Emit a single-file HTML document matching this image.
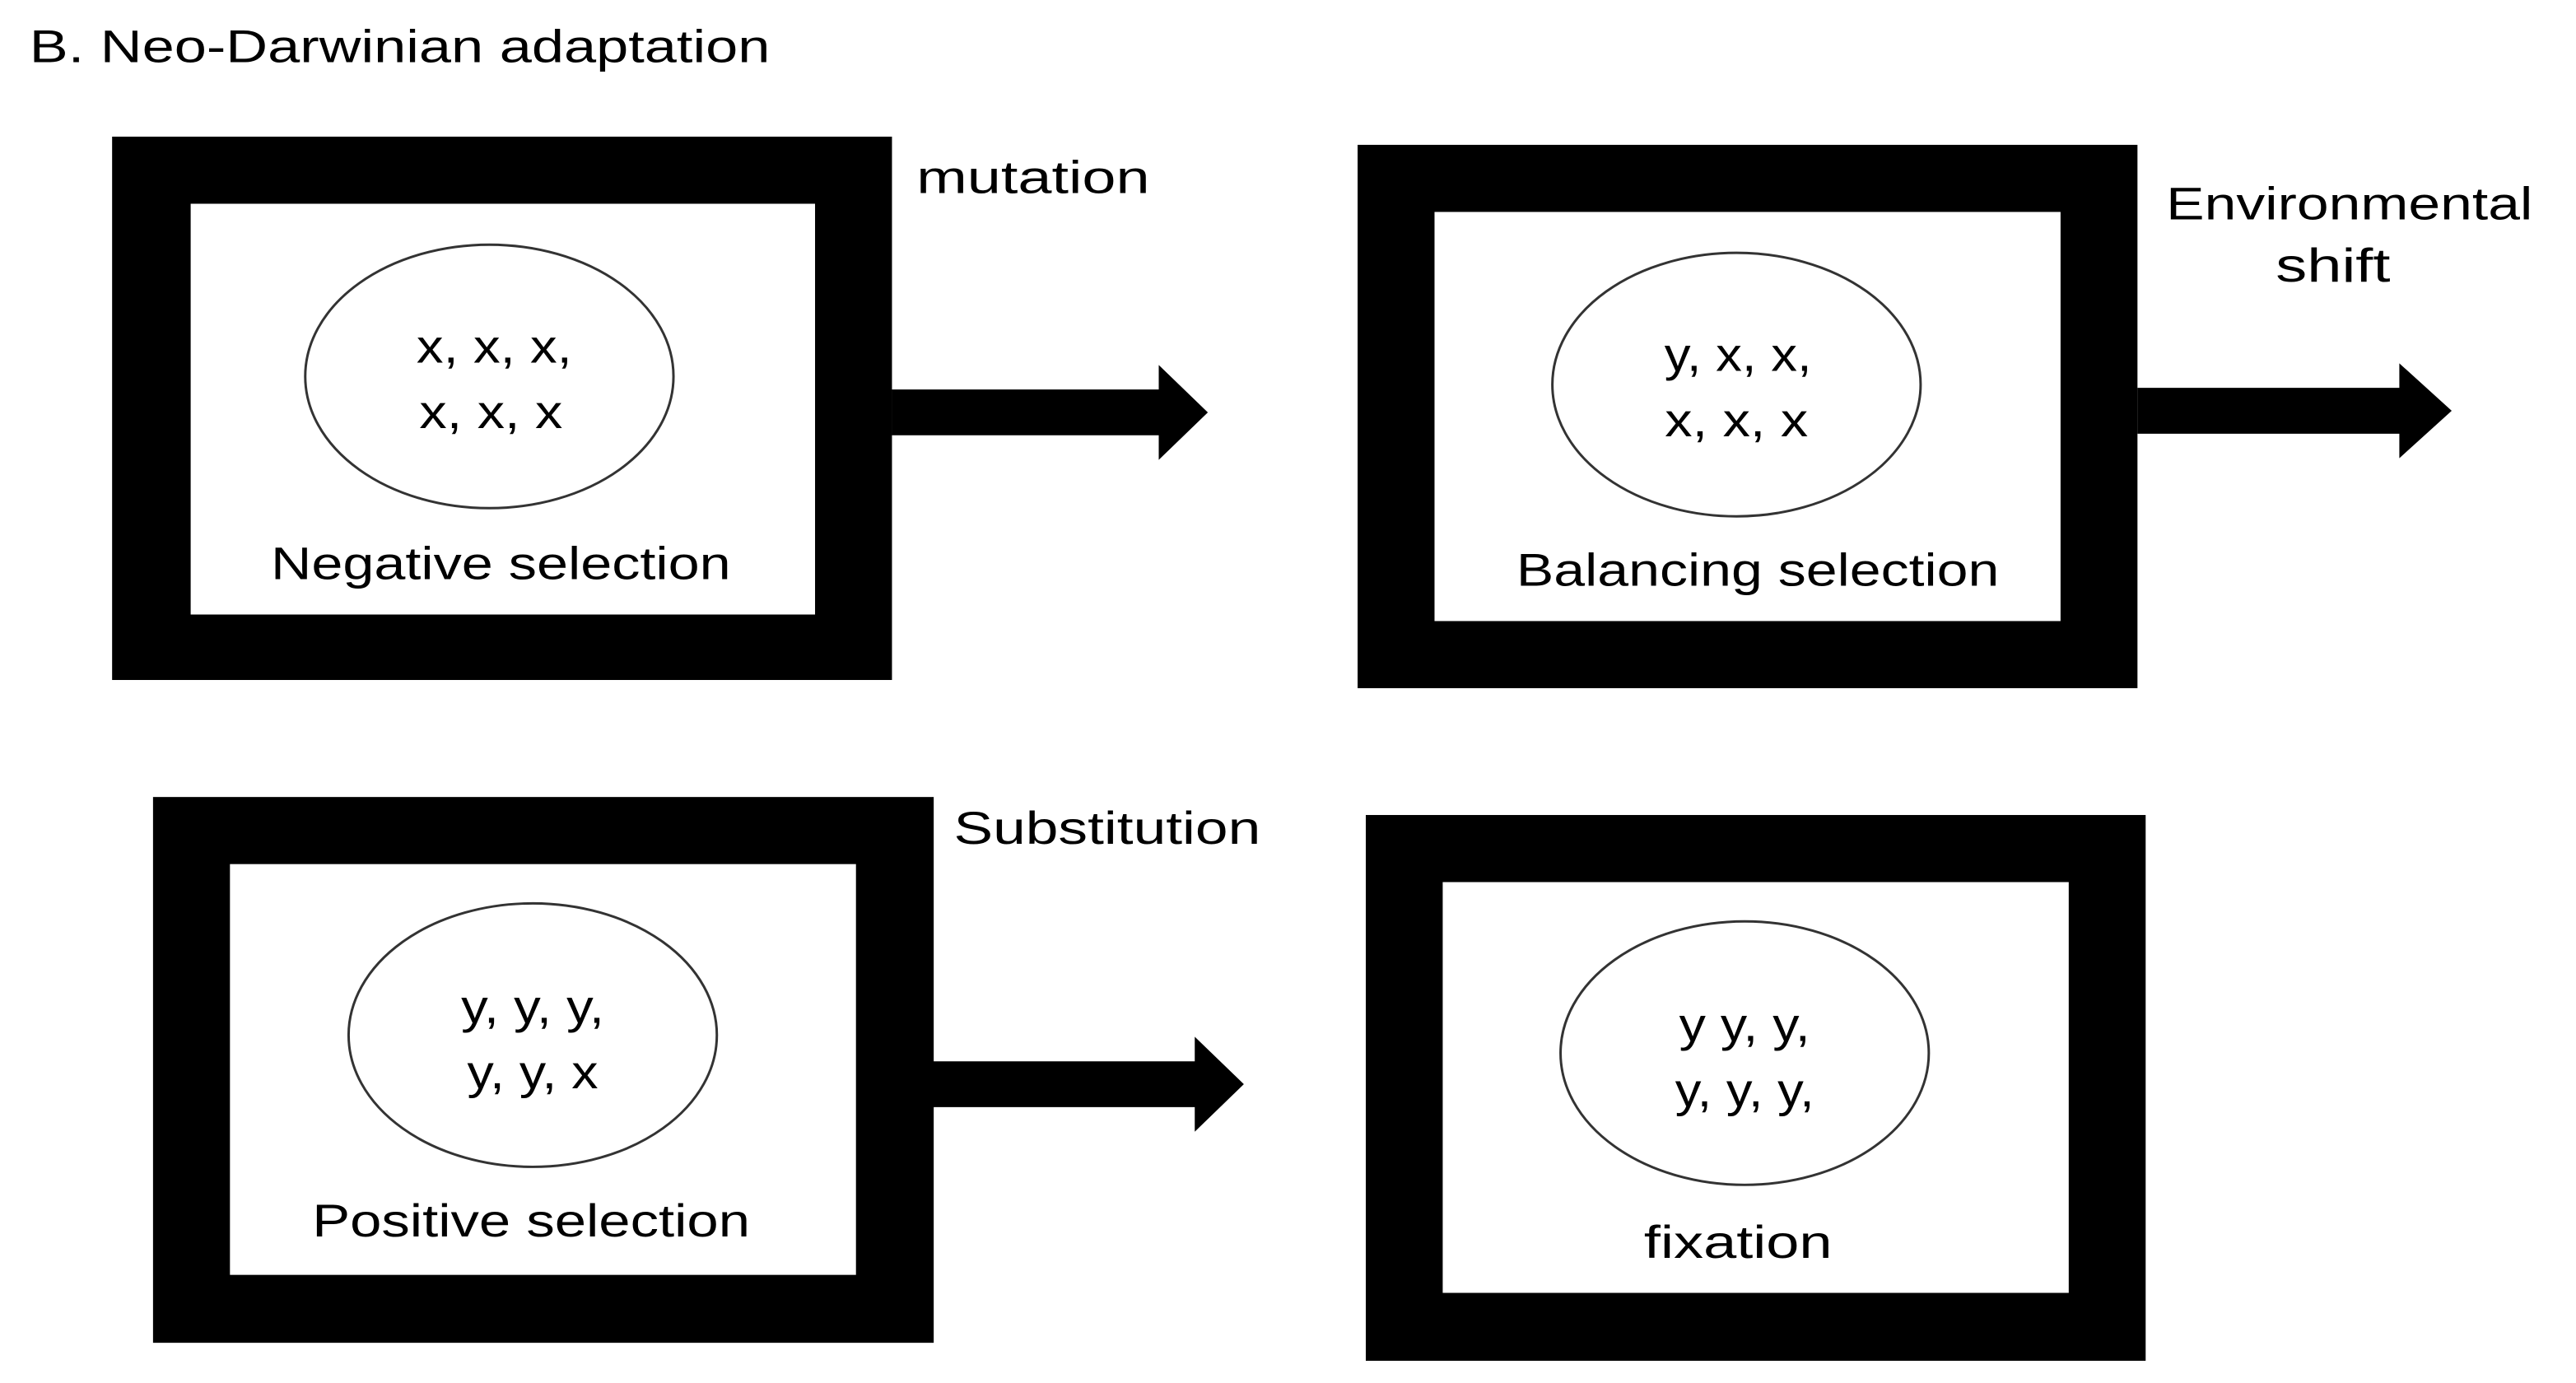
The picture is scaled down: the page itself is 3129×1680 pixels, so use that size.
<!DOCTYPE html>
<html><head><meta charset="utf-8"><style>html,body{margin:0;padding:0;background:#fff}svg{display:block}</style></head>
<body>
<svg width="3129" height="1680" viewBox="0 0 3129 1680" xmlns="http://www.w3.org/2000/svg" font-family="Liberation Sans, sans-serif" fill="#000">
<g transform="scale(0.994)">
<text x="36" y="76" font-size="56" textLength="905" lengthAdjust="spacingAndGlyphs">B.  Neo-Darwinian adaptation</text>

<!-- Box 1 -->
<rect x="137" y="167" width="953" height="664" fill="#000"/>
<rect x="233" y="249" width="763" height="502" fill="#fff"/>
<ellipse cx="598" cy="460" rx="225" ry="161" fill="#fff" stroke="#333" stroke-width="3"/>
<text x="604" y="443" font-size="58" text-anchor="middle" textLength="190" lengthAdjust="spacingAndGlyphs">x, x, x,</text>
<text x="600" y="523" font-size="58" text-anchor="middle" textLength="175" lengthAdjust="spacingAndGlyphs">x, x, x</text>
<text x="612" y="708" font-size="56" text-anchor="middle" textLength="562" lengthAdjust="spacingAndGlyphs">Negative selection</text>
<polygon points="1090,476 1416,476 1416,446 1476,504 1416,562 1416,532 1090,532"/>
<text x="1120" y="236" font-size="56" textLength="285" lengthAdjust="spacingAndGlyphs">mutation</text>

<!-- Box 2 -->
<rect x="1659" y="177" width="953" height="664" fill="#000"/>
<rect x="1753" y="259" width="765" height="500" fill="#fff"/>
<ellipse cx="2122" cy="470" rx="225" ry="161" fill="#fff" stroke="#333" stroke-width="3"/>
<text x="2124" y="453" font-size="58" text-anchor="middle" textLength="180" lengthAdjust="spacingAndGlyphs">y, x, x,</text>
<text x="2122" y="533" font-size="58" text-anchor="middle" textLength="175" lengthAdjust="spacingAndGlyphs">x, x, x</text>
<text x="2148" y="716" font-size="56" text-anchor="middle" textLength="590" lengthAdjust="spacingAndGlyphs">Balancing selection</text>
<polygon points="2612,474 2932,474 2932,444 2996,502 2932,560 2932,530 2612,530"/>
<text x="2871" y="268" font-size="56" text-anchor="middle" textLength="448" lengthAdjust="spacingAndGlyphs">Environmental</text>
<text x="2851" y="344" font-size="58" text-anchor="middle" textLength="140" lengthAdjust="spacingAndGlyphs">shift</text>

<!-- Box 3 -->
<rect x="187" y="974" width="954" height="667" fill="#000"/>
<rect x="281" y="1056" width="765" height="502" fill="#fff"/>
<ellipse cx="651" cy="1265" rx="225" ry="161" fill="#fff" stroke="#333" stroke-width="3"/>
<text x="651" y="1250" font-size="58" text-anchor="middle" textLength="175" lengthAdjust="spacingAndGlyphs">y, y, y,</text>
<text x="651" y="1330" font-size="58" text-anchor="middle" textLength="160" lengthAdjust="spacingAndGlyphs">y, y, x</text>
<text x="649" y="1511" font-size="56" text-anchor="middle" textLength="535" lengthAdjust="spacingAndGlyphs">Positive selection</text>
<polygon points="1138,1297 1460,1297 1460,1267 1520,1325 1460,1383 1460,1353 1138,1353"/>
<text x="1353" y="1031" font-size="56" text-anchor="middle" textLength="375" lengthAdjust="spacingAndGlyphs">Substitution</text>

<!-- Box 4 -->
<rect x="1669" y="996" width="953" height="667" fill="#000"/>
<rect x="1763" y="1078" width="765" height="502" fill="#fff"/>
<ellipse cx="2132" cy="1287" rx="225" ry="161" fill="#fff" stroke="#333" stroke-width="3"/>
<text x="2132" y="1272" font-size="58" text-anchor="middle" textLength="160" lengthAdjust="spacingAndGlyphs">y y, y,</text>
<text x="2132" y="1352" font-size="58" text-anchor="middle" textLength="170" lengthAdjust="spacingAndGlyphs">y, y, y,</text>
<text x="2124" y="1537" font-size="56" text-anchor="middle" textLength="230" lengthAdjust="spacingAndGlyphs">fixation</text>
</g>
</svg>
</body></html>
